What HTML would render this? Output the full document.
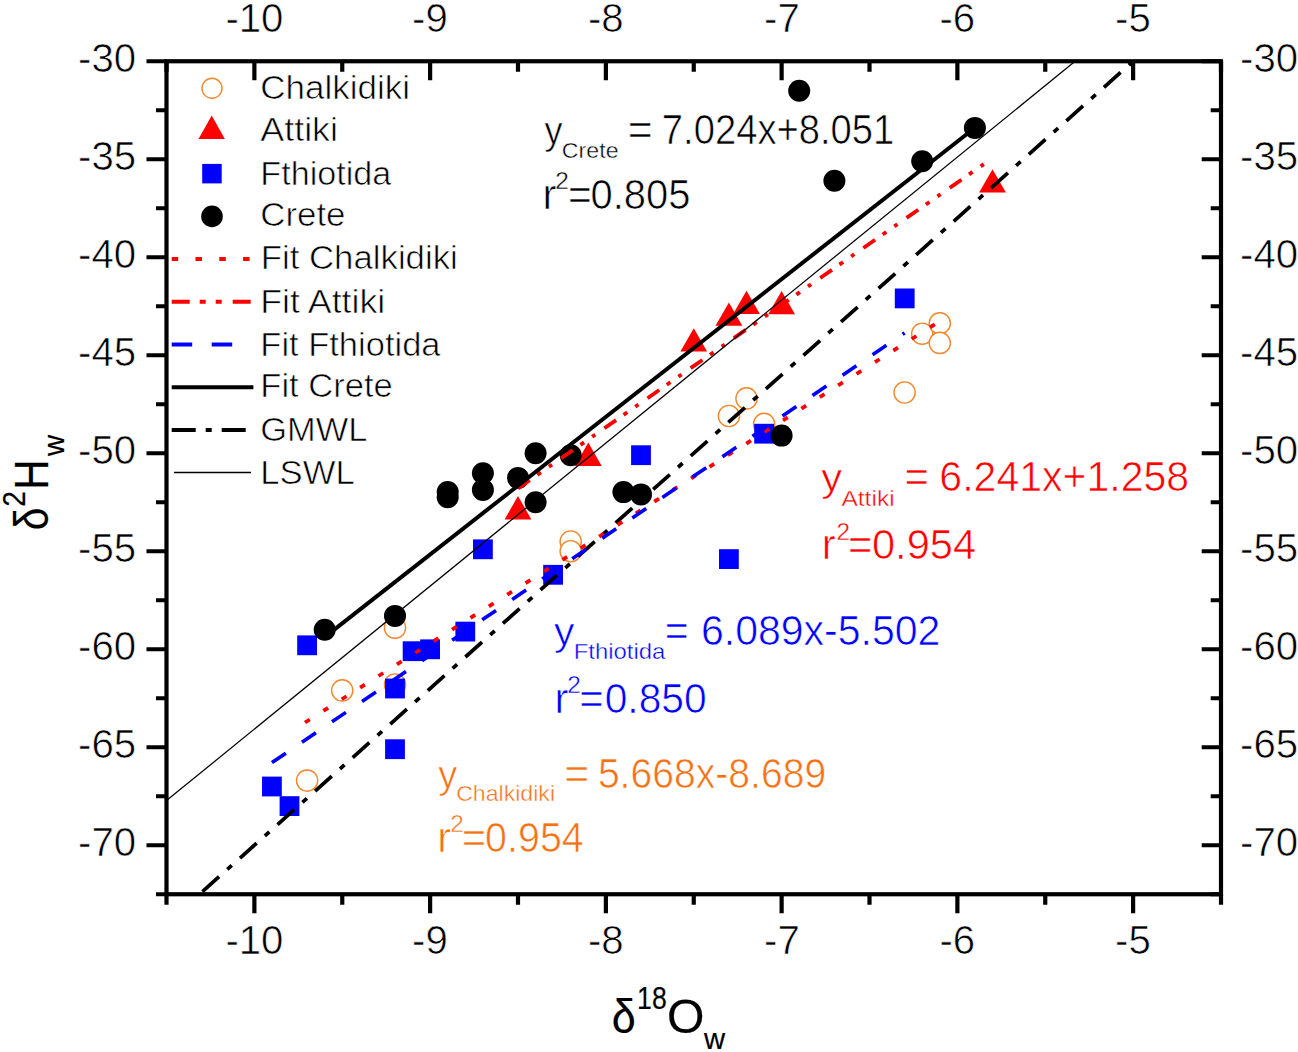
<!DOCTYPE html><html><head><meta charset="utf-8"><style>html,body{margin:0;padding:0;background:#fff;overflow:hidden}svg{display:block}text{font-family:"Liberation Sans",sans-serif;stroke:#fff;stroke-width:0.65px}</style></head><body>
<svg width="1298" height="1052" viewBox="0 0 1298 1052">
<rect width="1298" height="1052" fill="#fff"/>
<defs><clipPath id="pc"><rect x="166.5" y="61.25" width="1054.5" height="833.0000000000001"/></clipPath></defs>
<g clip-path="url(#pc)">
<circle cx="307.1" cy="780.6" r="10.6" fill="#fff" stroke="#F4862C" stroke-width="1.4"/>
<circle cx="342.2" cy="690.4" r="10.6" fill="#fff" stroke="#F4862C" stroke-width="1.4"/>
<circle cx="395.0" cy="627.7" r="10.6" fill="#fff" stroke="#F4862C" stroke-width="1.4"/>
<circle cx="395.0" cy="684.5" r="10.6" fill="#fff" stroke="#F4862C" stroke-width="1.4"/>
<circle cx="570.7" cy="541.5" r="10.6" fill="#fff" stroke="#F4862C" stroke-width="1.4"/>
<circle cx="570.7" cy="551.2" r="10.6" fill="#fff" stroke="#F4862C" stroke-width="1.4"/>
<circle cx="728.9" cy="416.0" r="10.6" fill="#fff" stroke="#F4862C" stroke-width="1.4"/>
<circle cx="746.5" cy="398.4" r="10.6" fill="#fff" stroke="#F4862C" stroke-width="1.4"/>
<circle cx="764.1" cy="423.9" r="10.6" fill="#fff" stroke="#F4862C" stroke-width="1.4"/>
<circle cx="904.6" cy="392.5" r="10.6" fill="#fff" stroke="#F4862C" stroke-width="1.4"/>
<circle cx="922.2" cy="333.7" r="10.6" fill="#fff" stroke="#F4862C" stroke-width="1.4"/>
<circle cx="939.8" cy="323.3" r="10.6" fill="#fff" stroke="#F4862C" stroke-width="1.4"/>
<circle cx="939.8" cy="342.9" r="10.6" fill="#fff" stroke="#F4862C" stroke-width="1.4"/>
<polygon points="518.0,496.1 531.4,519.4 504.6,519.4" fill="#FF0000"/>
<polygon points="588.3,442.6 601.7,465.9 574.9,465.9" fill="#FF0000"/>
<polygon points="693.8,328.3 707.1,351.6 680.4,351.6" fill="#FF0000"/>
<polygon points="728.9,302.4 742.3,325.7 715.5,325.7" fill="#FF0000"/>
<polygon points="746.5,290.7 759.9,314.0 733.1,314.0" fill="#FF0000"/>
<polygon points="781.6,290.9 795.0,314.2 768.2,314.2" fill="#FF0000"/>
<polygon points="992.5,169.2 1005.9,192.5 979.1,192.5" fill="#FF0000"/>
<rect x="262.0" y="776.6" width="19.8" height="19.8" fill="#0000FF"/>
<rect x="279.6" y="796.2" width="19.8" height="19.8" fill="#0000FF"/>
<rect x="297.2" y="635.4" width="19.8" height="19.8" fill="#0000FF"/>
<rect x="385.1" y="678.6" width="19.8" height="19.8" fill="#0000FF"/>
<rect x="385.1" y="739.3" width="19.8" height="19.8" fill="#0000FF"/>
<rect x="402.7" y="641.3" width="19.8" height="19.8" fill="#0000FF"/>
<rect x="420.2" y="639.4" width="19.8" height="19.8" fill="#0000FF"/>
<rect x="455.4" y="621.7" width="19.8" height="19.8" fill="#0000FF"/>
<rect x="473.0" y="539.4" width="19.8" height="19.8" fill="#0000FF"/>
<rect x="543.2" y="564.9" width="19.8" height="19.8" fill="#0000FF"/>
<rect x="631.1" y="445.3" width="19.8" height="19.8" fill="#0000FF"/>
<rect x="719.0" y="549.2" width="19.8" height="19.8" fill="#0000FF"/>
<rect x="754.2" y="423.8" width="19.8" height="19.8" fill="#0000FF"/>
<rect x="894.8" y="288.5" width="19.8" height="19.8" fill="#0000FF"/>
<circle cx="324.7" cy="629.7" r="11" fill="#000"/>
<circle cx="395.0" cy="615.9" r="11" fill="#000"/>
<circle cx="447.7" cy="492.1" r="11" fill="#000"/>
<circle cx="447.7" cy="497.2" r="11" fill="#000"/>
<circle cx="482.9" cy="473.2" r="11" fill="#000"/>
<circle cx="482.9" cy="489.9" r="11" fill="#000"/>
<circle cx="518.0" cy="477.9" r="11" fill="#000"/>
<circle cx="535.6" cy="453.2" r="11" fill="#000"/>
<circle cx="535.6" cy="502.3" r="11" fill="#000"/>
<circle cx="570.7" cy="455.2" r="11" fill="#000"/>
<circle cx="623.4" cy="492.1" r="11" fill="#000"/>
<circle cx="641.0" cy="494.4" r="11" fill="#000"/>
<circle cx="781.6" cy="435.6" r="11" fill="#000"/>
<circle cx="799.2" cy="90.7" r="11" fill="#000"/>
<circle cx="834.4" cy="180.8" r="11" fill="#000"/>
<circle cx="922.2" cy="161.2" r="11" fill="#000"/>
<circle cx="974.9" cy="127.9" r="11" fill="#000"/>
<line x1="199.45" y1="894.25" x2="1133.12" y2="61.25" stroke="#000" stroke-width="3.7" stroke-dasharray="22.3 11.02 6 11.02" stroke-dashoffset="-4.0"/>
<line x1="304.99" y1="722.49" x2="939.80" y2="321.22" stroke="#FF0000" stroke-width="3.8" stroke-dasharray="5.6 16.15" stroke-dashoffset="0"/>
<line x1="518.00" y1="488.34" x2="992.52" y2="158.07" stroke="#FF0000" stroke-width="3.8" stroke-dasharray="14.3 9.2 4.4 9.8 3.8 11.1" stroke-dashoffset="0"/>
<line x1="271.95" y1="762.60" x2="904.65" y2="332.96" stroke="#0000FF" stroke-width="3.6" stroke-dasharray="16.8 19.5" stroke-dashoffset="0"/>
<line x1="324.68" y1="637.09" x2="974.95" y2="127.71" stroke="#000" stroke-width="4"/>
<line x1="166.5" y1="800.6" x2="1075.1" y2="61.25" stroke="#000" stroke-width="1.25"/>
</g>
<rect x="166.5" y="61.25" width="1054.50" height="833.00" fill="none" stroke="#000" stroke-width="4.2"/>
<path d="M166.50 894.25V904.75M166.50 61.25V71.75M254.38 894.25V913.25M254.38 61.25V80.25M342.25 894.25V904.75M342.25 61.25V71.75M430.12 894.25V913.25M430.12 61.25V80.25M518.00 894.25V904.75M518.00 61.25V71.75M605.88 894.25V913.25M605.88 61.25V80.25M693.75 894.25V904.75M693.75 61.25V71.75M781.62 894.25V913.25M781.62 61.25V80.25M869.50 894.25V904.75M869.50 61.25V71.75M957.38 894.25V913.25M957.38 61.25V80.25M1045.25 894.25V904.75M1045.25 61.25V71.75M1133.12 894.25V913.25M1133.12 61.25V80.25M1221.00 894.25V904.75M1221.00 61.25V71.75M166.50 61.25H146.50M1221.00 61.25H1201.70M166.50 110.25H156.00M1221.00 110.25H1210.70M166.50 159.25H146.50M1221.00 159.25H1201.70M166.50 208.25H156.00M1221.00 208.25H1210.70M166.50 257.25H146.50M1221.00 257.25H1201.70M166.50 306.25H156.00M1221.00 306.25H1210.70M166.50 355.25H146.50M1221.00 355.25H1201.70M166.50 404.25H156.00M1221.00 404.25H1210.70M166.50 453.25H146.50M1221.00 453.25H1201.70M166.50 502.25H156.00M1221.00 502.25H1210.70M166.50 551.25H146.50M1221.00 551.25H1201.70M166.50 600.25H156.00M1221.00 600.25H1210.70M166.50 649.25H146.50M1221.00 649.25H1201.70M166.50 698.25H156.00M1221.00 698.25H1210.70M166.50 747.25H146.50M1221.00 747.25H1201.70M166.50 796.25H156.00M1221.00 796.25H1210.70M166.50 845.25H146.50M1221.00 845.25H1201.70M166.50 894.25H156.00M1221.00 894.25H1210.70" stroke="#000" stroke-width="4.2" fill="none"/>
<g fill="#000">
<text x="225.38" y="954.20" font-size="40.2">-10</text>
<text x="225.38" y="31.70" font-size="40.2">-10</text>
<text x="412.12" y="954.20" font-size="40.2">-9</text>
<text x="412.12" y="31.70" font-size="40.2">-9</text>
<text x="587.88" y="954.20" font-size="40.2">-8</text>
<text x="587.88" y="31.70" font-size="40.2">-8</text>
<text x="764.12" y="954.20" font-size="40.2">-7</text>
<text x="764.12" y="31.70" font-size="40.2">-7</text>
<text x="939.38" y="954.20" font-size="40.2">-6</text>
<text x="939.38" y="31.70" font-size="40.2">-6</text>
<text x="1115.12" y="954.20" font-size="40.2">-5</text>
<text x="1115.12" y="31.70" font-size="40.2">-5</text>
<text x="78.00" y="71.75" font-size="40.2">-30</text>
<text x="1240.10" y="71.85" font-size="40.2">-30</text>
<text x="78.00" y="169.75" font-size="40.2">-35</text>
<text x="1240.10" y="169.85" font-size="40.2">-35</text>
<text x="78.00" y="267.75" font-size="40.2">-40</text>
<text x="1240.10" y="267.85" font-size="40.2">-40</text>
<text x="78.00" y="365.75" font-size="40.2">-45</text>
<text x="1240.10" y="365.85" font-size="40.2">-45</text>
<text x="78.00" y="463.75" font-size="40.2">-50</text>
<text x="1240.10" y="463.85" font-size="40.2">-50</text>
<text x="78.00" y="561.75" font-size="40.2">-55</text>
<text x="1240.10" y="561.85" font-size="40.2">-55</text>
<text x="78.00" y="659.75" font-size="40.2">-60</text>
<text x="1240.10" y="659.85" font-size="40.2">-60</text>
<text x="78.00" y="757.75" font-size="40.2">-65</text>
<text x="1240.10" y="757.85" font-size="40.2">-65</text>
<text x="78.00" y="855.75" font-size="40.2">-70</text>
<text x="1240.10" y="855.85" font-size="40.2">-70</text>
</g>
<g fill="#000">
<text x="260.21" y="99.30" font-size="33.6" textLength="149.91" lengthAdjust="spacingAndGlyphs">Chalkidiki</text>
<text x="260.23" y="141.20" font-size="33.6" textLength="77.83" lengthAdjust="spacingAndGlyphs">Attiki</text>
<text x="260.35" y="184.70" font-size="33.6" textLength="130.96" lengthAdjust="spacingAndGlyphs">Fthiotida</text>
<text x="260.22" y="226.30" font-size="33.6" textLength="85.27" lengthAdjust="spacingAndGlyphs">Crete</text>
<text x="260.69" y="269.20" font-size="33.6" textLength="197.12" lengthAdjust="spacingAndGlyphs">Fit Chalkidiki</text>
<text x="260.21" y="312.60" font-size="33.6" textLength="125.10" lengthAdjust="spacingAndGlyphs">Fit Attiki</text>
<text x="260.32" y="355.50" font-size="33.6" textLength="180.22" lengthAdjust="spacingAndGlyphs">Fit Fthiotida</text>
<text x="260.31" y="396.90" font-size="33.6" textLength="132.49" lengthAdjust="spacingAndGlyphs">Fit Crete</text>
<text x="260.25" y="441.30" font-size="33.6" textLength="107.16" lengthAdjust="spacingAndGlyphs">GMWL</text>
<text x="260.30" y="484.20" font-size="33.6" textLength="94.50" lengthAdjust="spacingAndGlyphs">LSWL</text>
</g>
<circle cx="212.0" cy="88.3" r="10" fill="#fff" stroke="#F4862C" stroke-width="1.4"/>
<polygon points="211.7,115.5 224.9,138.9 198.5,138.9" fill="#FF0000"/>
<rect x="202.2" y="163.9" width="19.5" height="19.5" fill="#0000FF"/>
<circle cx="212.0" cy="216.4" r="10.8" fill="#000"/>
<line x1="171.7" y1="259.1" x2="252" y2="259.1" stroke="#FF0000" stroke-width="4" stroke-dasharray="6.5 17.3"/>
<line x1="171.7" y1="301.8" x2="252" y2="301.8" stroke="#FF0000" stroke-width="4" stroke-dasharray="18 10 6 10 6 11"/>
<line x1="171.7" y1="344.5" x2="249" y2="344.5" stroke="#0000FF" stroke-width="4" stroke-dasharray="20.5 19.5"/>
<line x1="171.7" y1="387.2" x2="253.4" y2="387.2" stroke="#000" stroke-width="4"/>
<line x1="171.7" y1="429.9" x2="252" y2="429.9" stroke="#000" stroke-width="4" stroke-dasharray="24 10 6 10"/>
<line x1="174" y1="472.6" x2="251" y2="472.6" stroke="#000" stroke-width="1.5"/>
<g fill="#000"><text x="544.59" y="144.30" font-size="39.5" textLength="17.99" lengthAdjust="spacingAndGlyphs">y</text><text x="561.88" y="157.80" font-size="22.7" textLength="56.64" lengthAdjust="spacingAndGlyphs" style="stroke:#fff;stroke-width:0.4px">Crete</text><text x="627.74" y="144.30" font-size="41.8" textLength="24.94" lengthAdjust="spacingAndGlyphs">=</text><text x="661.86" y="144.30" font-size="41.8" textLength="232.42" lengthAdjust="spacingAndGlyphs">7.024x+8.051</text><text x="542.50" y="208.60" font-size="41.8">r</text><text x="555.30" y="188.90" font-size="24.4" style="stroke:#fff;stroke-width:0.4px">2</text><text x="567.88" y="208.60" font-size="41.8" textLength="23.78" lengthAdjust="spacingAndGlyphs">=</text><text x="590.49" y="208.60" font-size="41.8" textLength="99.90" lengthAdjust="spacingAndGlyphs">0.805</text></g>
<g fill="#FF0000"><text x="821.24" y="491.20" font-size="39.5" textLength="20.85" lengthAdjust="spacingAndGlyphs">y</text><text x="841.42" y="505.50" font-size="22.7" textLength="53.23" lengthAdjust="spacingAndGlyphs" style="stroke:#fff;stroke-width:0.4px">Attiki</text><text x="904.50" y="491.20" font-size="41.8" textLength="24.42" lengthAdjust="spacingAndGlyphs">=</text><text x="939.36" y="491.20" font-size="41.8" textLength="249.80" lengthAdjust="spacingAndGlyphs">6.241x+1.258</text><text x="821.80" y="559.30" font-size="41.8">r</text><text x="836.60" y="539.60" font-size="24.4" style="stroke:#fff;stroke-width:0.4px">2</text><text x="848.00" y="559.30" font-size="41.8" textLength="24.42" lengthAdjust="spacingAndGlyphs">=</text><text x="871.91" y="559.30" font-size="41.8" textLength="104.20" lengthAdjust="spacingAndGlyphs">0.954</text></g>
<g fill="#0000FF"><text x="553.97" y="644.70" font-size="39.5" textLength="20.41" lengthAdjust="spacingAndGlyphs">y</text><text x="573.80" y="658.70" font-size="22.7" textLength="91.54" lengthAdjust="spacingAndGlyphs" style="stroke:#fff;stroke-width:0.4px">Fthiotida</text><text x="664.66" y="644.70" font-size="41.8" textLength="23.91" lengthAdjust="spacingAndGlyphs">=</text><text x="700.96" y="644.70" font-size="41.8" textLength="239.42" lengthAdjust="spacingAndGlyphs">6.089x-5.502</text><text x="554.40" y="712.50" font-size="41.8">r</text><text x="567.20" y="692.80" font-size="24.4" style="stroke:#fff;stroke-width:0.4px">2</text><text x="579.30" y="712.50" font-size="41.8" textLength="24.42" lengthAdjust="spacingAndGlyphs">=</text><text x="604.65" y="712.50" font-size="41.8" textLength="101.99" lengthAdjust="spacingAndGlyphs">0.850</text></g>
<g fill="#F47216"><text x="438.24" y="788.30" font-size="39.5" textLength="18.98" lengthAdjust="spacingAndGlyphs">y</text><text x="456.18" y="800.80" font-size="22.7" textLength="98.85" lengthAdjust="spacingAndGlyphs" style="stroke:#fff;stroke-width:0.4px">Chalkidiki</text><text x="564.32" y="788.30" font-size="41.8" textLength="25.06" lengthAdjust="spacingAndGlyphs">=</text><text x="597.89" y="788.30" font-size="41.8" textLength="228.29" lengthAdjust="spacingAndGlyphs">5.668x-8.689</text><text x="437.20" y="852.00" font-size="41.8">r</text><text x="450.30" y="832.30" font-size="24.4" style="stroke:#fff;stroke-width:0.4px">2</text><text x="461.70" y="852.00" font-size="41.8" textLength="24.42" lengthAdjust="spacingAndGlyphs">=</text><text x="485.11" y="852.00" font-size="41.8" textLength="98.60" lengthAdjust="spacingAndGlyphs">0.954</text></g>
<g fill="#000">
<text x="611.84" y="1032.90" font-size="47.2" font-family="Liberation Serif" textLength="23.99" lengthAdjust="spacingAndGlyphs" style="stroke:#000;stroke-width:0.2px">δ</text>
<text x="637.11" y="1009.10" font-size="31.5" textLength="29.57" lengthAdjust="spacingAndGlyphs" style="stroke:#000;stroke-width:0.2px">18</text>
<text x="667.01" y="1032.90" font-size="48.3" textLength="37.46" lengthAdjust="spacingAndGlyphs" style="stroke:#000;stroke-width:0.2px">O</text>
<text x="704.10" y="1048.50" font-size="29.8" textLength="21.14" lengthAdjust="spacingAndGlyphs" style="stroke:#000;stroke-width:0.2px">w</text>
<g transform="translate(47.9,530) rotate(-90)">
<text x="-0.34" y="0.00" font-size="47.2" font-family="Liberation Serif" textLength="22.70" lengthAdjust="spacingAndGlyphs" style="stroke:#000;stroke-width:0.2px">δ</text>
<text x="23.31" y="-23.40" font-size="31.5" textLength="15.65" lengthAdjust="spacingAndGlyphs" style="stroke:#000;stroke-width:0.2px">2</text>
<text x="40.36" y="0.00" font-size="47.4" textLength="30.30" lengthAdjust="spacingAndGlyphs" style="stroke:#000;stroke-width:0.2px">H</text>
<text x="74.10" y="15.90" font-size="29.8" textLength="21.14" lengthAdjust="spacingAndGlyphs" style="stroke:#000;stroke-width:0.2px">w</text>
</g>
</g>
</svg></body></html>
